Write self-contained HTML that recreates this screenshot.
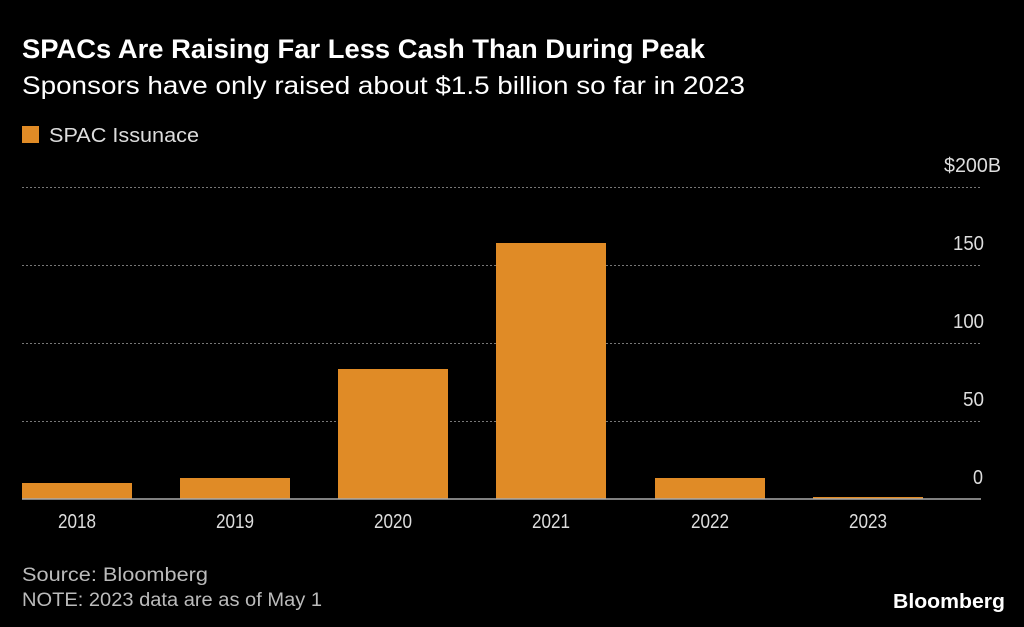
<!DOCTYPE html>
<html><head><meta charset="utf-8"><style>
html,body{margin:0;padding:0;background:#000;}
svg{display:block;}
text{font-family:"Liberation Sans Narrow","Liberation Sans",sans-serif;}
</style></head><body>
<svg width="1024" height="627" viewBox="0 0 1024 627" xmlns="http://www.w3.org/2000/svg">
<rect width="1024" height="627" fill="#000"/>
<text x="22" y="58" fill="#fff" font-size="27" font-weight="bold" textLength="683" lengthAdjust="spacingAndGlyphs">SPACs Are Raising Far Less Cash Than During Peak</text>
<text x="22" y="94" fill="#fff" font-size="25" textLength="723" lengthAdjust="spacingAndGlyphs">Sponsors have only raised about $1.5 billion so far in 2023</text>
<rect x="22" y="126" width="17" height="17" fill="#e08b26"/>
<text x="49" y="142" fill="#ddd" font-size="20" textLength="150" lengthAdjust="spacingAndGlyphs">SPAC Issunace</text>
<g stroke="#777" stroke-width="1" stroke-dasharray="2,2">
<line x1="22" y1="187.5" x2="981" y2="187.5"/>
<line x1="22" y1="265.5" x2="981" y2="265.5"/>
<line x1="22" y1="343.5" x2="981" y2="343.5"/>
<line x1="22" y1="421.5" x2="981" y2="421.5"/>
</g>
<g fill="#ddd" font-size="20" text-anchor="end">
<text x="1001" y="172" textLength="57" lengthAdjust="spacingAndGlyphs">$200B</text>
<text x="984" y="250" textLength="31" lengthAdjust="spacingAndGlyphs">150</text>
<text x="984" y="328" textLength="31" lengthAdjust="spacingAndGlyphs">100</text>
<text x="984" y="406" textLength="21" lengthAdjust="spacingAndGlyphs">50</text>
<text x="983" y="484" textLength="10" lengthAdjust="spacingAndGlyphs">0</text>
</g>
<g fill="#e08b26">
<rect x="22" y="483" width="110" height="16"/>
<rect x="180" y="478" width="110" height="21"/>
<rect x="338" y="369" width="110" height="130"/>
<rect x="496" y="243" width="110" height="256"/>
<rect x="655" y="478" width="110" height="21"/>
<rect x="813" y="497" width="110" height="2"/>
</g>
<line x1="22" y1="499" x2="981" y2="499" stroke="#aaa" stroke-width="1.5"/>
<g fill="#ddd" font-size="20" text-anchor="middle">
<text x="77" y="528" textLength="38" lengthAdjust="spacingAndGlyphs">2018</text>
<text x="235" y="528" textLength="38" lengthAdjust="spacingAndGlyphs">2019</text>
<text x="393" y="528" textLength="38" lengthAdjust="spacingAndGlyphs">2020</text>
<text x="551" y="528" textLength="38" lengthAdjust="spacingAndGlyphs">2021</text>
<text x="710" y="528" textLength="38" lengthAdjust="spacingAndGlyphs">2022</text>
<text x="868" y="528" textLength="38" lengthAdjust="spacingAndGlyphs">2023</text>
</g>
<text x="22" y="581" fill="#bbb" font-size="19" textLength="186" lengthAdjust="spacingAndGlyphs">Source: Bloomberg</text>
<text x="22" y="606" fill="#bbb" font-size="19" textLength="300" lengthAdjust="spacingAndGlyphs">NOTE: 2023 data are as of May 1</text>
<text x="1005" y="608" fill="#fff" font-size="20" font-weight="bold" text-anchor="end" textLength="112" lengthAdjust="spacingAndGlyphs">Bloomberg</text>
</svg>
</body></html>
